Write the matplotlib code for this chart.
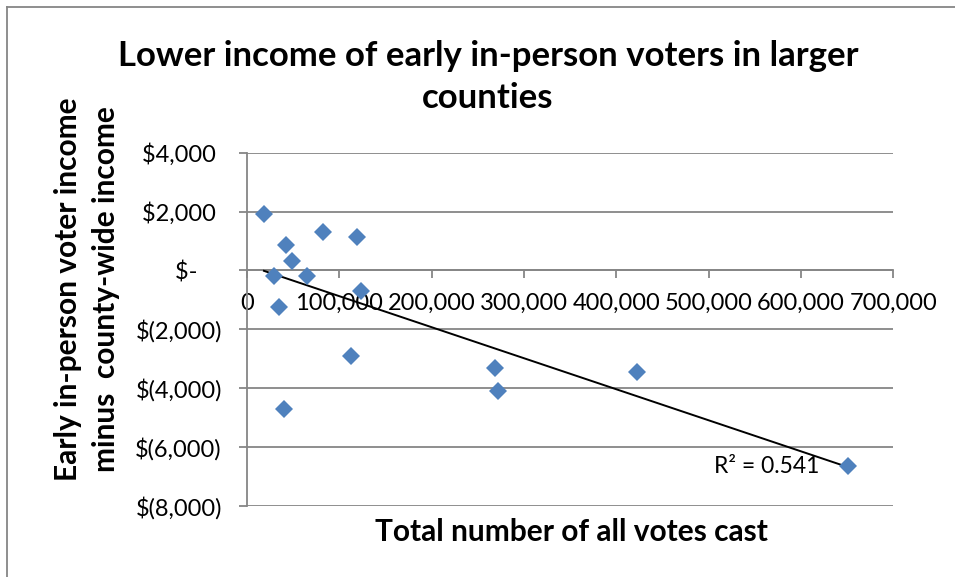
import matplotlib.pyplot as plt
from matplotlib.ticker import FuncFormatter, MultipleLocator
from matplotlib.lines import Line2D
import numpy as np

plt.rcParams['font.family'] = ['Lato', 'DejaVu Sans']

# county totals and income gap (early in-person voters minus county-wide)
votes = [18400, 42300, 49100, 29300, 64700, 82700, 119500, 123500,
         34400, 112400, 40100, 268700, 272300, 422300, 650900]
income_diff = [1917, 863, 330, -190, -190, 1290, 1144, -693,
               -1254, -2900, -4700, -3328, -4089, -3462, -6649]

title = 'Lower income of early in-person voters in larger\ncounties'
xlabel = 'Total number of all votes cast'
ylabel = 'Early in-person voter income\nminus  county-wide income'

blue = '#4F81BD'
grey = '#868686'


def money(v, pos):
    if v == 0:
        return '$-    '
    if v < 0:
        return '$({:,.0f})'.format(-v)
    return '${:,.0f} '.format(v)


fig = plt.figure(figsize=(9.55, 5.77), dpi=100)
ax = fig.add_axes([0.2586, 0.1236, 0.6768, 0.6117])

x = np.array(votes)
y = np.array(income_diff)

# linear trendline over the data range
slope, icpt = np.polyfit(x, y, 1)
fit = slope * x + icpt
r2 = 1 - np.sum((y - fit) ** 2) / np.sum((y - y.mean()) ** 2)
xs = np.array([x.min(), x.max()])
ax.plot(xs, slope * xs + icpt, color='black', lw=1.4, zorder=3)

ax.plot(x, y, 'D', color=blue, ms=9.2, mew=0, zorder=4)

ax.set_xlim(0, 700000)
ax.set_ylim(-8000, 4000)
ax.yaxis.set_major_locator(MultipleLocator(2000))
ax.xaxis.set_major_locator(MultipleLocator(100000))
ax.yaxis.set_major_formatter(FuncFormatter(money))
ax.xaxis.set_major_formatter(FuncFormatter(lambda v, p: '{:,.0f}'.format(v)))

ax.grid(axis='y', color=grey, lw=1.3)
ax.set_axisbelow(True)
for s in ['top', 'right']:
    ax.spines[s].set_visible(False)
ax.spines['bottom'].set_position(('data', 0))
ax.spines['bottom'].set_color(grey)
ax.spines['bottom'].set_linewidth(1.3)
ax.spines['left'].set_color(grey)
ax.spines['left'].set_linewidth(1.3)
ax.tick_params(axis='both', direction='out', color=grey, width=1.3, length=6,
               labelsize=17)
ax.tick_params(axis='x', pad=10)
ax.tick_params(axis='y', pad=12)

ax.text(0.723, 0.11, 'R² = {:.3f}'.format(r2), transform=ax.transAxes,
        fontsize=16.5, ha='left', va='center')

fig.text(0.511, 0.867, title, ha='center', va='center', fontsize=25,
         fontweight='bold', linespacing=1.38)
fig.text(0.598, 0.078, xlabel, ha='center', va='center', fontsize=21.5,
         fontweight='bold')
fig.text(0.091, 0.499, ylabel, ha='center', va='center', rotation=90,
         fontsize=21.5, fontweight='bold', linespacing=1.43)

# chart frame on the top and left edges
fig.add_artist(Line2D([0.0073, 0.0073], [0, 0.988], color=grey, lw=1.3))
fig.add_artist(Line2D([0.0073, 1], [0.988, 0.988], color=grey, lw=1.3))

fig.savefig('out.png', dpi=100)
